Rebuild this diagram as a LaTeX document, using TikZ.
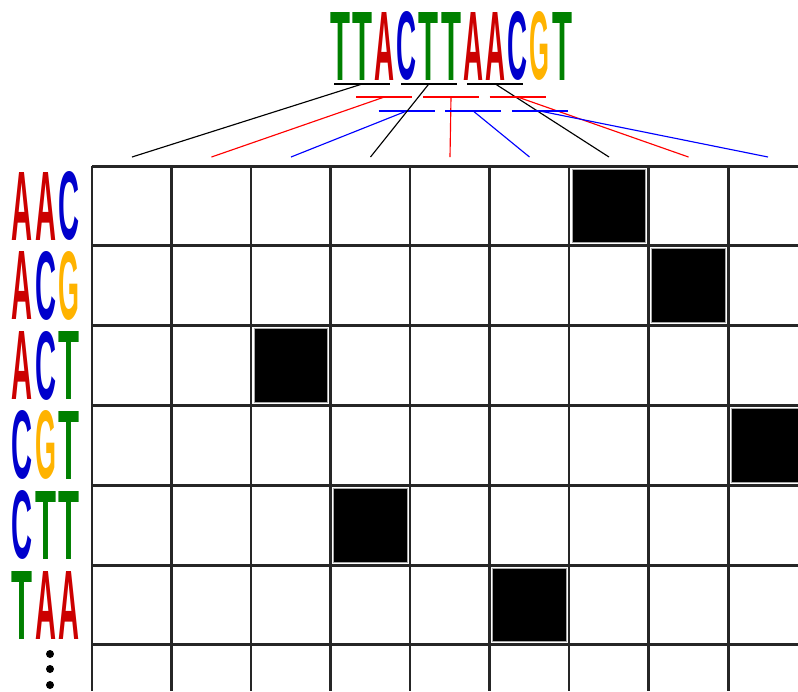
\documentclass[tikz,border=0pt]{standalone}
\usepackage{graphicx}
\usepackage{fontspec}
\setmainfont{Liberation Sans}
\definecolor{baseA}{RGB}{204,0,0}
\definecolor{baseC}{RGB}{0,0,204}
\definecolor{baseG}{RGB}{255,179,0}
\definecolor{baseT}{RGB}{0,128,0}
\definecolor{kred}{RGB}{255,0,0}
\definecolor{kblue}{RGB}{0,0,255}
\newcommand{\logoletter}[2]{\resizebox{#1}{1.36cm}{\bfseries #2}}
\tikzset{
  base/.style={inner sep=0pt, outer sep=0pt},
  gridline/.style={black!85, line width=1.7pt},
  hit/.style={fill=black, draw=gray!70, line width=0.5pt},
  link/.style={line width=0.65pt}
}

\begin{document}
\begin{tikzpicture}[x=0.02cm, y=-0.02cm, line width=1.3pt]
  \useasboundingbox (0,0) rectangle (798,691);
  % sequence logo on top
  \foreach \b [count=\i from 0] in {T,T,A,C,T,T,A,A,C,G,T}
    \node[base, text=base\b] (s\i) at (340+22.2*\i,46) {\logoletter{0.4cm}{\b}};
  % column tops
  \foreach \i in {0,...,8}
    \coordinate (col\i) at (132+79.5*\i,157);
  % 3-mer bars and links to their columns
  \foreach \i/\c/\y in {0/black/84,1/kred/97,2/kblue/111,3/black/84,4/kred/97,5/kblue/111,6/black/84,7/kred/97,8/kblue/111}{
    \pgfmathtruncatemacro\m{\i+1}
    \coordinate (bar\i) at (s\m |- 0,\y);
    \draw[\c] (bar\i) ++(-28,0) -- ++(56,0);
    \draw[\c, link] (bar\i) -- (col\i);
  }
  % grid
  \foreach \i in {0,...,8}
    \draw[gridline] (92+79.5*\i,166) -- (92+79.5*\i,691);
  \foreach \j in {0,...,6}
    \draw[gridline] (92,166+79.8*\j) -- (798,166+79.8*\j);
  % filled cells (column/row)
  \foreach \c/\r in {6/0,7/1,2/2,8/3,3/4,5/5}
    \draw[hit] (95+79.5*\c,169+79.8*\r) rectangle (89+79.5*\c+79.5,163+79.8*\r+79.8);
  % row labels
  \foreach \x/\y/\z [count=\j from 0] in {A/A/C,A/C/G,A/C/T,C/G/T,C/T/T,T/A/A}{
    \node[base, text=base\x] (r\j a) at (22,206+79.8*\j) {\logoletter{0.42cm}{\x}};
    \node[base, text=base\y] (r\j b) at (45.5,206+79.8*\j) {\logoletter{0.42cm}{\y}};
    \node[base, text=base\z] (r\j c) at (69,206+79.8*\j) {\logoletter{0.42cm}{\z}};
  }
  % more rows
  \foreach \y [count=\k] in {654,669,685}
    \node[base, circle, fill=black, minimum size=0.16cm] (dot\k) at (50,\y) {};
\end{tikzpicture}
\end{document}
